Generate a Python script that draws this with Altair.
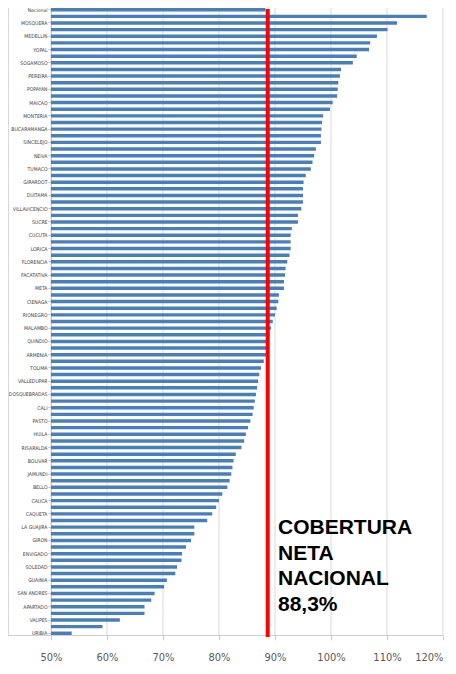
import altair as alt
import pandas as pd

# Category labels shown on the axis (Excel labels every other category)
labeled = [
    "Nacional", "MOSQUERA", "MEDELLIN", "YOPAL", "SOGAMOSO", "PEREIRA", "POPAYAN", "MAICAO",
    "MONTERIA", "BUCARAMANGA", "SINCELEJO", "NEIVA", "TUMACO", "GIRARDOT", "DUITAMA",
    "VILLAVICENCIO", "SUCRE", "CUCUTA", "LORICA", "FLORENCIA", "FACATATIVA", "META",
    "CIENAGA", "RIONEGRO", "MALAMBO", "QUINDIO", "ARMENIA", "TOLIMA", "VALLEDUPAR",
    "DOSQUEBRADAS", "CALI", "PASTO", "HUILA", "RISARALDA", "BOLIVAR", "JAMUNDI", "BELLO",
    "CAUCA", "CAQUETA", "LA GUAJIRA", "GIRON", "ENVIGADO", "SOLEDAD", "GUAINIA",
    "SAN ANDRES", "APARTADO", "VAUPES", "URIBIA",
]

# Net coverage (%) for all 95 bars, top to bottom
values = [
    88.3, 117.1, 111.8, 110.1, 108.2, 107.0, 106.8, 104.6, 103.9, 101.8,
    101.6, 101.3, 101.2, 101.1, 100.3, 99.8, 98.6, 98.4, 98.3, 98.2,
    98.2, 97.3, 97.0, 96.7, 96.4, 95.5, 95.1, 95.0, 95.0, 95.0,
    94.7, 94.1, 94.1, 93.0, 92.8, 92.8, 92.8, 92.6, 92.2, 91.9,
    91.8, 91.6, 91.6, 90.7, 90.6, 90.3, 90.0, 89.6, 89.3, 89.0,
    88.9, 88.6, 88.4, 88.0, 87.5, 87.2, 87.0, 86.8, 86.6, 86.4,
    86.2, 86.0, 85.6, 85.2, 84.8, 84.5, 84.0, 83.0, 82.6, 82.4,
    82.2, 81.9, 81.5, 80.6, 80.0, 79.5, 78.8, 77.9, 75.6, 75.6,
    75.0, 74.1, 73.4, 73.3, 72.5, 72.2, 70.7, 70.2, 68.5, 67.9,
    66.7, 66.7, 62.3, 59.2, 53.7,
]

x_ticks = [50, 60, 70, 80, 90, 100, 110, 120]
grid_ticks = [40, 50, 60, 70, 80, 90, 100, 110, 120]
national_line = [88.7]
note = ["COBERTURA\nNETA\nNACIONAL\n88,3%"]

names = [labeled[i // 2] if i % 2 == 0 else f"sin etiqueta {i + 1}" for i in range(len(values))]
df = pd.DataFrame({"entidad": names, "cobertura": values})

W, H = 436, 627
COND = "DejaVu Sans Condensed, Liberation Sans Narrow, sans-serif"

xscale = alt.Scale(domain=[40, 120], range=[-13, 435], nice=False, zero=False)

bars = alt.Chart(df).mark_bar(color="#4a7ebb").encode(
    y=alt.Y(
        "entidad:N",
        sort=None,
        scale=alt.Scale(paddingInner=0.48, paddingOuter=0.0),
        axis=alt.Axis(
            values=labeled, title=None, offset=-43, labelOverlap=False,
            labelFont=COND, labelFontSize=5.1, labelColor="#404040", labelPadding=1,
            tickSize=3, tickColor="#bfbfbf", domainColor="#bfbfbf", grid=False,
        ),
    ),
    x=alt.X(
        "cobertura:Q",
        scale=xscale,
        axis=alt.Axis(
            values=x_ticks, title=None, labelExpr="datum.value + '%'",
            labelFont=COND, labelFontSize=11, labelColor="#595959", labelPadding=11,
            tickSize=5, tickColor="#d0d0d0", domainColor="#d0d0d0",
            grid=False, labelFlush=True,
        ),
    ),
    x2=alt.datum(50),
)

grid = alt.Chart(pd.DataFrame({"g": grid_ticks})).mark_rule(
    color="#d9d9d9", strokeWidth=1
).encode(x=alt.X("g:Q", scale=xscale), y=alt.value(-3), y2=alt.value(H))

rule = alt.Chart(pd.DataFrame({"v": national_line})).mark_rule(
    color="#ff0000", strokeWidth=4
).encode(x=alt.X("v:Q", scale=xscale), y=alt.value(1), y2=alt.value(H + 2))

border = alt.Chart(pd.DataFrame({"v": [0]})).mark_rule(color="#d9d9d9").encode(
    x=alt.value(0.5), y=alt.value(-4), y2=alt.value(H)
)

text = alt.Chart(pd.DataFrame({"t": note})).mark_text(
    align="left", baseline="alphabetic", font="Liberation Sans, Arial, sans-serif",
    fontWeight="bold", fontSize=21, lineHeight=25.5, color="black", lineBreak="\n",
).encode(x=alt.value(270), y=alt.value(526.3), text="t:N")

chart = alt.layer(grid, border, bars, rule, text).properties(
    width=W, height=H,
    autosize=alt.AutoSizeParams(type="none"),
    padding={"left": 0, "top": 0, "right": 4, "bottom": 29},
).configure_view(stroke=None)

chart.save("out.html", embed_options={"renderer": "svg", "actions": False})
